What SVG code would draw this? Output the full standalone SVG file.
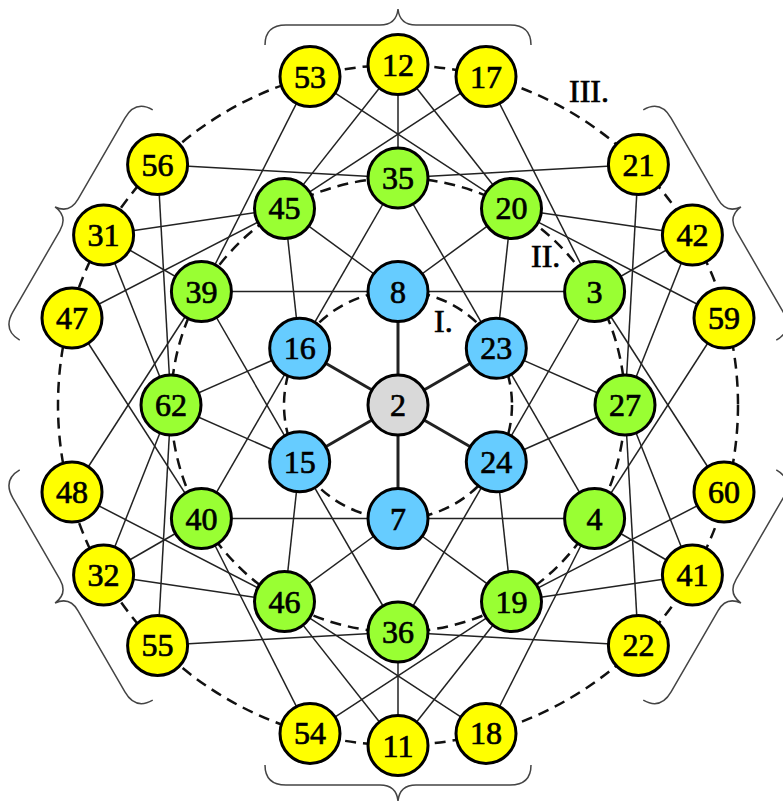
<svg xmlns="http://www.w3.org/2000/svg" width="783" height="805" viewBox="0 0 783 805">
<style>
.e{stroke:#222;stroke-width:1.5;fill:none}
.s{stroke:#222;stroke-width:3;fill:none}
.d{stroke:#111;stroke-width:2.5;fill:none;stroke-dasharray:11 7}
.b{stroke:#444;stroke-width:1.5;fill:none}
circle.n{stroke:#000;stroke-width:3}
.y{fill:#FFFF00}.g{fill:#99FF33}.c{fill:#66CCFF}.k{fill:#D9D9D9}
text{font-family:"Liberation Serif","Times New Roman",serif;font-size:32px;fill:#000;stroke:#000;stroke-width:0.7;text-anchor:middle}
text.l{text-anchor:start}
</style>
<defs>
<path id="brace" d="M -133,-360 C -133,-373 -126,-380 -112,-380 L -18,-380 C -6,-380 -1,-386 0,-396 C 1,-386 6,-380 18,-380 L 112,-380 C 126,-380 133,-373 133,-360"/>
</defs>
<g id="braces" class="b">
<use href="#brace" transform="translate(398 405)"/>
<use href="#brace" transform="translate(398 405) rotate(60)"/>
<use href="#brace" transform="translate(398 405) rotate(120)"/>
<use href="#brace" transform="translate(398 405) rotate(180)"/>
<use href="#brace" transform="translate(398 405) rotate(240)"/>
<use href="#brace" transform="translate(398 405) rotate(300)"/>
</g>
<g id="rings">
<circle class="d" cx="398" cy="405" r="114"/>
<circle class="d" cx="398" cy="405" r="227"/>
<circle class="d" cx="398" cy="405" r="340"/>
</g>
<g id="connectors">
<g class="s">
<line x1="398" y1="405" x2="398" y2="291.5"/>
<line x1="398" y1="405" x2="496.3" y2="348.3"/>
<line x1="398" y1="405" x2="496.3" y2="461.8"/>
<line x1="398" y1="405" x2="398" y2="518.5"/>
<line x1="398" y1="405" x2="299.7" y2="461.8"/>
<line x1="398" y1="405" x2="299.7" y2="348.3"/>
</g>
<g class="e">
<line x1="398" y1="291.5" x2="284.5" y2="208.4"/>
<line x1="398" y1="291.5" x2="511.5" y2="208.4"/>
<line x1="398" y1="291.5" x2="201.4" y2="291.5"/>
<line x1="398" y1="291.5" x2="594.6" y2="291.5"/>
<line x1="496.3" y1="348.3" x2="511.5" y2="208.4"/>
<line x1="496.3" y1="348.3" x2="625" y2="405"/>
<line x1="496.3" y1="348.3" x2="398" y2="178"/>
<line x1="496.3" y1="348.3" x2="594.6" y2="518.5"/>
<line x1="496.3" y1="461.8" x2="625" y2="405"/>
<line x1="496.3" y1="461.8" x2="511.5" y2="601.6"/>
<line x1="496.3" y1="461.8" x2="594.6" y2="291.5"/>
<line x1="496.3" y1="461.8" x2="398" y2="632"/>
<line x1="398" y1="518.5" x2="511.5" y2="601.6"/>
<line x1="398" y1="518.5" x2="284.5" y2="601.6"/>
<line x1="398" y1="518.5" x2="594.6" y2="518.5"/>
<line x1="398" y1="518.5" x2="201.4" y2="518.5"/>
<line x1="299.7" y1="461.8" x2="284.5" y2="601.6"/>
<line x1="299.7" y1="461.8" x2="171" y2="405"/>
<line x1="299.7" y1="461.8" x2="398" y2="632"/>
<line x1="299.7" y1="461.8" x2="201.4" y2="291.5"/>
<line x1="299.7" y1="348.3" x2="171" y2="405"/>
<line x1="299.7" y1="348.3" x2="284.5" y2="208.4"/>
<line x1="299.7" y1="348.3" x2="201.4" y2="518.5"/>
<line x1="299.7" y1="348.3" x2="398" y2="178"/>
<line x1="310" y1="76.6" x2="201.4" y2="291.5"/>
<line x1="310" y1="76.6" x2="511.5" y2="208.4"/>
<line x1="398" y1="64.5" x2="284.5" y2="208.4"/>
<line x1="398" y1="64.5" x2="398" y2="178"/>
<line x1="398" y1="64.5" x2="511.5" y2="208.4"/>
<line x1="486" y1="76.6" x2="284.5" y2="208.4"/>
<line x1="486" y1="76.6" x2="594.6" y2="291.5"/>
<line x1="638.4" y1="164.6" x2="398" y2="178"/>
<line x1="638.4" y1="164.6" x2="625" y2="405"/>
<line x1="692.4" y1="235" x2="511.5" y2="208.4"/>
<line x1="692.4" y1="235" x2="594.6" y2="291.5"/>
<line x1="692.4" y1="235" x2="625" y2="405"/>
<line x1="724" y1="318" x2="511.5" y2="208.4"/>
<line x1="724" y1="318" x2="594.6" y2="518.5"/>
<line x1="724" y1="492" x2="594.6" y2="291.5"/>
<line x1="724" y1="492" x2="511.5" y2="601.6"/>
<line x1="692.4" y1="575" x2="625" y2="405"/>
<line x1="692.4" y1="575" x2="594.6" y2="518.5"/>
<line x1="692.4" y1="575" x2="511.5" y2="601.6"/>
<line x1="638.4" y1="645.4" x2="625" y2="405"/>
<line x1="638.4" y1="645.4" x2="398" y2="632"/>
<line x1="486" y1="733.4" x2="594.6" y2="518.5"/>
<line x1="486" y1="733.4" x2="284.5" y2="601.6"/>
<line x1="398" y1="745.5" x2="511.5" y2="601.6"/>
<line x1="398" y1="745.5" x2="398" y2="632"/>
<line x1="398" y1="745.5" x2="284.5" y2="601.6"/>
<line x1="310" y1="733.4" x2="511.5" y2="601.6"/>
<line x1="310" y1="733.4" x2="201.4" y2="518.5"/>
<line x1="157.6" y1="645.4" x2="398" y2="632"/>
<line x1="157.6" y1="645.4" x2="171" y2="405"/>
<line x1="103.6" y1="575" x2="284.5" y2="601.6"/>
<line x1="103.6" y1="575" x2="201.4" y2="518.5"/>
<line x1="103.6" y1="575" x2="171" y2="405"/>
<line x1="72" y1="492" x2="284.5" y2="601.6"/>
<line x1="72" y1="492" x2="201.4" y2="291.5"/>
<line x1="72" y1="318" x2="201.4" y2="518.5"/>
<line x1="72" y1="318" x2="284.5" y2="208.4"/>
<line x1="103.6" y1="235" x2="171" y2="405"/>
<line x1="103.6" y1="235" x2="201.4" y2="291.5"/>
<line x1="103.6" y1="235" x2="284.5" y2="208.4"/>
<line x1="157.6" y1="164.6" x2="171" y2="405"/>
<line x1="157.6" y1="164.6" x2="398" y2="178"/>
</g>
</g>
<g id="labels">
<text class="l" x="434" y="332">I.</text>
<text class="l" x="531" y="267">II.</text>
<text class="l" x="569" y="102">III.</text>
</g>
<g id="n2"><circle class="n k" cx="398" cy="405" r="30"/><text x="398" y="416">2</text></g>
<g id="n8"><circle class="n c" cx="398" cy="291.5" r="30"/><text x="398" y="302.5">8</text></g>
<g id="n23"><circle class="n c" cx="496.3" cy="348.3" r="30"/><text x="496.3" y="359.3">23</text></g>
<g id="n24"><circle class="n c" cx="496.3" cy="461.8" r="30"/><text x="496.3" y="472.8">24</text></g>
<g id="n7"><circle class="n c" cx="398" cy="518.5" r="30"/><text x="398" y="529.5">7</text></g>
<g id="n15"><circle class="n c" cx="299.7" cy="461.8" r="30"/><text x="299.7" y="472.8">15</text></g>
<g id="n16"><circle class="n c" cx="299.7" cy="348.3" r="30"/><text x="299.7" y="359.3">16</text></g>
<g id="n35"><circle class="n g" cx="398" cy="178" r="30"/><text x="398" y="189">35</text></g>
<g id="n20"><circle class="n g" cx="511.5" cy="208.4" r="30"/><text x="511.5" y="219.4">20</text></g>
<g id="n3"><circle class="n g" cx="594.6" cy="291.5" r="30"/><text x="594.6" y="302.5">3</text></g>
<g id="n27"><circle class="n g" cx="625" cy="405" r="30"/><text x="625" y="416">27</text></g>
<g id="n4"><circle class="n g" cx="594.6" cy="518.5" r="30"/><text x="594.6" y="529.5">4</text></g>
<g id="n19"><circle class="n g" cx="511.5" cy="601.6" r="30"/><text x="511.5" y="612.6">19</text></g>
<g id="n36"><circle class="n g" cx="398" cy="632" r="30"/><text x="398" y="643">36</text></g>
<g id="n46"><circle class="n g" cx="284.5" cy="601.6" r="30"/><text x="284.5" y="612.6">46</text></g>
<g id="n40"><circle class="n g" cx="201.4" cy="518.5" r="30"/><text x="201.4" y="529.5">40</text></g>
<g id="n62"><circle class="n g" cx="171" cy="405" r="30"/><text x="171" y="416">62</text></g>
<g id="n39"><circle class="n g" cx="201.4" cy="291.5" r="30"/><text x="201.4" y="302.5">39</text></g>
<g id="n45"><circle class="n g" cx="284.5" cy="208.4" r="30"/><text x="284.5" y="219.4">45</text></g>
<g id="n53"><circle class="n y" cx="310" cy="76.6" r="30"/><text x="310" y="87.6">53</text></g>
<g id="n12"><circle class="n y" cx="398" cy="64.5" r="30"/><text x="398" y="75.5">12</text></g>
<g id="n17"><circle class="n y" cx="486" cy="76.6" r="30"/><text x="486" y="87.6">17</text></g>
<g id="n21"><circle class="n y" cx="638.4" cy="164.6" r="30"/><text x="638.4" y="175.6">21</text></g>
<g id="n42"><circle class="n y" cx="692.4" cy="235" r="30"/><text x="692.4" y="246">42</text></g>
<g id="n59"><circle class="n y" cx="724" cy="318" r="30"/><text x="724" y="329">59</text></g>
<g id="n60"><circle class="n y" cx="724" cy="492" r="30"/><text x="724" y="503">60</text></g>
<g id="n41"><circle class="n y" cx="692.4" cy="575" r="30"/><text x="692.4" y="586">41</text></g>
<g id="n22"><circle class="n y" cx="638.4" cy="645.4" r="30"/><text x="638.4" y="656.4">22</text></g>
<g id="n18"><circle class="n y" cx="486" cy="733.4" r="30"/><text x="486" y="744.4">18</text></g>
<g id="n11"><circle class="n y" cx="398" cy="745.5" r="30"/><text x="398" y="756.5">11</text></g>
<g id="n54"><circle class="n y" cx="310" cy="733.4" r="30"/><text x="310" y="744.4">54</text></g>
<g id="n55"><circle class="n y" cx="157.6" cy="645.4" r="30"/><text x="157.6" y="656.4">55</text></g>
<g id="n32"><circle class="n y" cx="103.6" cy="575" r="30"/><text x="103.6" y="586">32</text></g>
<g id="n48"><circle class="n y" cx="72" cy="492" r="30"/><text x="72" y="503">48</text></g>
<g id="n47"><circle class="n y" cx="72" cy="318" r="30"/><text x="72" y="329">47</text></g>
<g id="n31"><circle class="n y" cx="103.6" cy="235" r="30"/><text x="103.6" y="246">31</text></g>
<g id="n56"><circle class="n y" cx="157.6" cy="164.6" r="30"/><text x="157.6" y="175.6">56</text></g>
</svg>
